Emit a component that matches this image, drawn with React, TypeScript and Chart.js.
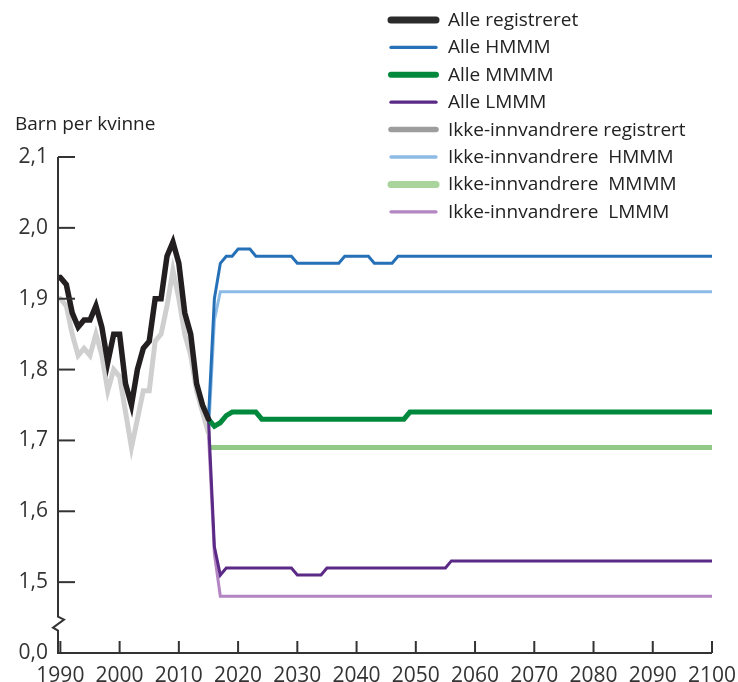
import React, { useEffect, useRef } from "react";
import { Chart, registerables } from "chart.js";

Chart.register(...registerables);

// ---------- data ----------
const histYears = [1990, 1991, 1992, 1993, 1994, 1995, 1996, 1997, 1998, 1999, 2000, 2001, 2002, 2003, 2004, 2005, 2006, 2007, 2008, 2009, 2010, 2011, 2012, 2013, 2014, 2015];
const alleRegistrert = [1.93, 1.92, 1.88, 1.86, 1.87, 1.87, 1.89, 1.86, 1.81, 1.85, 1.85, 1.78, 1.75, 1.8, 1.83, 1.84, 1.9, 1.9, 1.96, 1.98, 1.95, 1.88, 1.85, 1.78, 1.75, 1.73];
const ikkeRegistrert = [1.9, 1.89, 1.85, 1.82, 1.83, 1.82, 1.85, 1.82, 1.77, 1.8, 1.79, 1.74, 1.69, 1.73, 1.77, 1.77, 1.84, 1.85, 1.89, 1.94, 1.9, 1.85, 1.82, 1.77, 1.74, 1.71];

const alleHmmmYears = [2015, 2016, 2017, 2018, 2019, 2020, 2022, 2023, 2029, 2030, 2037, 2038, 2042, 2043, 2046, 2047, 2100];
const alleHmmmValues = [1.73, 1.9, 1.95, 1.96, 1.96, 1.97, 1.97, 1.96, 1.96, 1.95, 1.95, 1.96, 1.96, 1.95, 1.95, 1.96, 1.96];

const alleMmmmYears = [2015, 2016, 2017, 2018, 2019, 2023, 2024, 2048, 2049, 2100];
const alleMmmmValues = [1.73, 1.72, 1.725, 1.735, 1.74, 1.74, 1.73, 1.73, 1.74, 1.74];

const alleLmmmYears = [2015, 2016, 2017, 2018, 2029, 2030, 2034, 2035, 2055, 2056, 2100];
const alleLmmmValues = [1.73, 1.55, 1.51, 1.52, 1.52, 1.51, 1.51, 1.52, 1.52, 1.53, 1.53];

const ikkeHmmmYears = [2015, 2016, 2017, 2100];
const ikkeHmmmValues = [1.71, 1.87, 1.91, 1.91];

const ikkeMmmmYears = [2015, 2100];
const ikkeMmmmValues = [1.69, 1.69];

const ikkeLmmmYears = [2015, 2016, 2017, 2100];
const ikkeLmmmValues = [1.71, 1.54, 1.48, 1.48];

const seriesLabels = [
  "Alle registreret",
  "Alle HMMM",
  "Alle MMMM",
  "Alle LMMM",
  "Ikke-innvandrere registrert",
  "Ikke-innvandrere  HMMM",
  "Ikke-innvandrere  MMMM",
  "Ikke-innvandrere  LMMM",
];

const xTickValues = [1990, 2000, 2010, 2020, 2030, 2040, 2050, 2060, 2070, 2080, 2090, 2100];
const yTickValues = [1.4, 1.5, 1.6, 1.7, 1.8, 1.9, 2.0, 2.1];
const yTickLabels = ["0,0", "1,5", "1,6", "1,7", "1,8", "1,9", "2,0", "2,1"];
const yAxisTitle = "Barn per kvinne";

// ---------- styles ----------
const FONT = "'Open Sans', 'Liberation Sans', sans-serif";
const lineColors = ["#231f20", "#2670b8", "#00893d", "#5b2a86", "#cfcfcf", "#8cbbe6", "#93c986", "#b385c2"];
const legendColors = ["#2b2b2b", "#2670b8", "#00893d", "#5b2a86", "#9d9d9d", "#8cbbe6", "#a9d49c", "#b385c2"];
const lineWidths = [5.5, 3, 5, 3, 5, 3, 5, 3];
const legendWidths = [7, 3.3, 6, 3.3, 5.5, 3.3, 7, 3.3];

const toPts = (xs: number[], ys: number[]) => xs.map((x, i) => ({ x, y: ys[i] }));

const axisPlugin = {
  id: "customAxes",
  afterDatasetsDraw(chart: any) {
    const { ctx, chartArea, scales } = chart;
    const { left, right, top, bottom } = chartArea;
    const ys = scales.y;
    const xs = scales.x;
    ctx.save();
    ctx.strokeStyle = "#333333";
    ctx.lineWidth = 2;
    ctx.lineCap = "butt";
    ctx.lineJoin = "miter";
    // x axis
    ctx.beginPath();
    ctx.moveTo(left - 1, bottom);
    ctx.lineTo(right, bottom);
    ctx.stroke();
    // y axis with break
    const c = ys.getPixelForValue(1.44);
    ctx.beginPath();
    ctx.moveTo(left, top);
    ctx.lineTo(left, c - 8);
    ctx.lineTo(left + 6, c - 5);
    ctx.lineTo(left - 5, c + 3);
    ctx.lineTo(left, c + 6);
    ctx.lineTo(left, bottom);
    ctx.stroke();
    // y ticks (inward)
    yTickValues.forEach((v) => {
      if (v <= 1.4) return;
      const y = ys.getPixelForValue(v);
      ctx.beginPath();
      ctx.moveTo(left, y);
      ctx.lineTo(left + 17, y);
      ctx.stroke();
    });
    // x ticks (inward)
    xTickValues.forEach((v) => {
      const x = xs.getPixelForValue(v);
      ctx.beginPath();
      ctx.moveTo(x, bottom);
      ctx.lineTo(x, bottom - 12);
      ctx.stroke();
    });
    ctx.restore();
  },
};

const legendPlugin = {
  id: "customLegend",
  afterDraw(chart: any) {
    const { ctx } = chart;
    ctx.save();
    // axis title
    ctx.font = `19px ${FONT}`;
    ctx.fillStyle = "#222222";
    ctx.textAlign = "left";
    ctx.textBaseline = "alphabetic";
    ctx.fillText(yAxisTitle, 15, 130);
    // legend
    chart.data.datasets.forEach((ds: any, i: number) => {
      const yc = 20 + i * 27.4;
      ctx.beginPath();
      ctx.strokeStyle = legendColors[i];
      ctx.lineWidth = legendWidths[i];
      ctx.lineCap = "round";
      ctx.moveTo(391, yc);
      ctx.lineTo(436, yc);
      ctx.stroke();
      ctx.fillStyle = "#222222";
      ctx.fillText(ds.label, 448, yc + 6);
    });
    ctx.restore();
  },
};

export default function App() {
  const ref = useRef<HTMLCanvasElement>(null);
  useEffect(() => {
    const canvas = ref.current;
    if (!canvas) return;
    const seriesData = [
      toPts(histYears, alleRegistrert),
      toPts(alleHmmmYears, alleHmmmValues),
      toPts(alleMmmmYears, alleMmmmValues),
      toPts(alleLmmmYears, alleLmmmValues),
      toPts(histYears, ikkeRegistrert),
      toPts(ikkeHmmmYears, ikkeHmmmValues),
      toPts(ikkeMmmmYears, ikkeMmmmValues),
      toPts(ikkeLmmmYears, ikkeLmmmValues),
    ];
    const chart = new Chart(canvas, {
      type: "line",
      data: {
        datasets: seriesData.map((d, i) => ({
          label: seriesLabels[i],
          data: d,
          borderColor: lineColors[i],
          backgroundColor: lineColors[i],
          borderWidth: lineWidths[i],
          pointRadius: 0,
          pointHoverRadius: 0,
          tension: 0,
          fill: false,
          borderCapStyle: i === 0 || i === 4 ? "round" : "butt",
          borderJoinStyle: "miter",
        })),
      },
      options: {
        animation: false,
        responsive: false,
        devicePixelRatio: 1,
        layout: { padding: { top: 157, right: 26, left: 0, bottom: 0 } },
        plugins: {
          legend: { display: false },
          tooltip: { enabled: false },
          title: { display: false },
        },
        scales: {
          x: {
            type: "linear",
            min: 1989.6,
            max: 2100,
            grid: { display: false, drawTicks: false },
            border: { display: false },
            afterBuildTicks: (scale: any) => {
              scale.ticks = xTickValues.map((v) => ({ value: v }));
            },
            afterFit: (scale: any) => {
              scale.height = 29;
              scale.paddingLeft = 0;
              scale.paddingRight = 0;
            },
            ticks: {
              autoSkip: false,
              maxRotation: 0,
              minRotation: 0,
              padding: 10,
              color: "#333333",
              font: { family: FONT, size: 21 },
              callback: (v: any) => String(v),
            },
          },
          y: {
            type: "linear",
            min: 1.4,
            max: 2.1,
            grid: { display: false, drawTicks: false },
            border: { display: false },
            afterBuildTicks: (scale: any) => {
              scale.ticks = yTickValues.map((v) => ({ value: v }));
            },
            afterFit: (scale: any) => {
              scale.width = 58;
              scale.paddingTop = 0;
              scale.paddingBottom = 0;
            },
            ticks: {
              autoSkip: false,
              padding: 10,
              color: "#333333",
              font: { family: FONT, size: 21 },
              callback: (_v: any, idx: number) => yTickLabels[idx],
            },
          },
        },
      },
      plugins: [axisPlugin, legendPlugin],
    } as any);
    return () => chart.destroy();
  }, []);
  return (
    <div style={{ position: "fixed", left: 0, top: 0, width: 738, height: 682, background: "#ffffff" }}>
      <canvas ref={ref} width={738} height={682} style={{ display: "block" }} />
    </div>
  );
}
